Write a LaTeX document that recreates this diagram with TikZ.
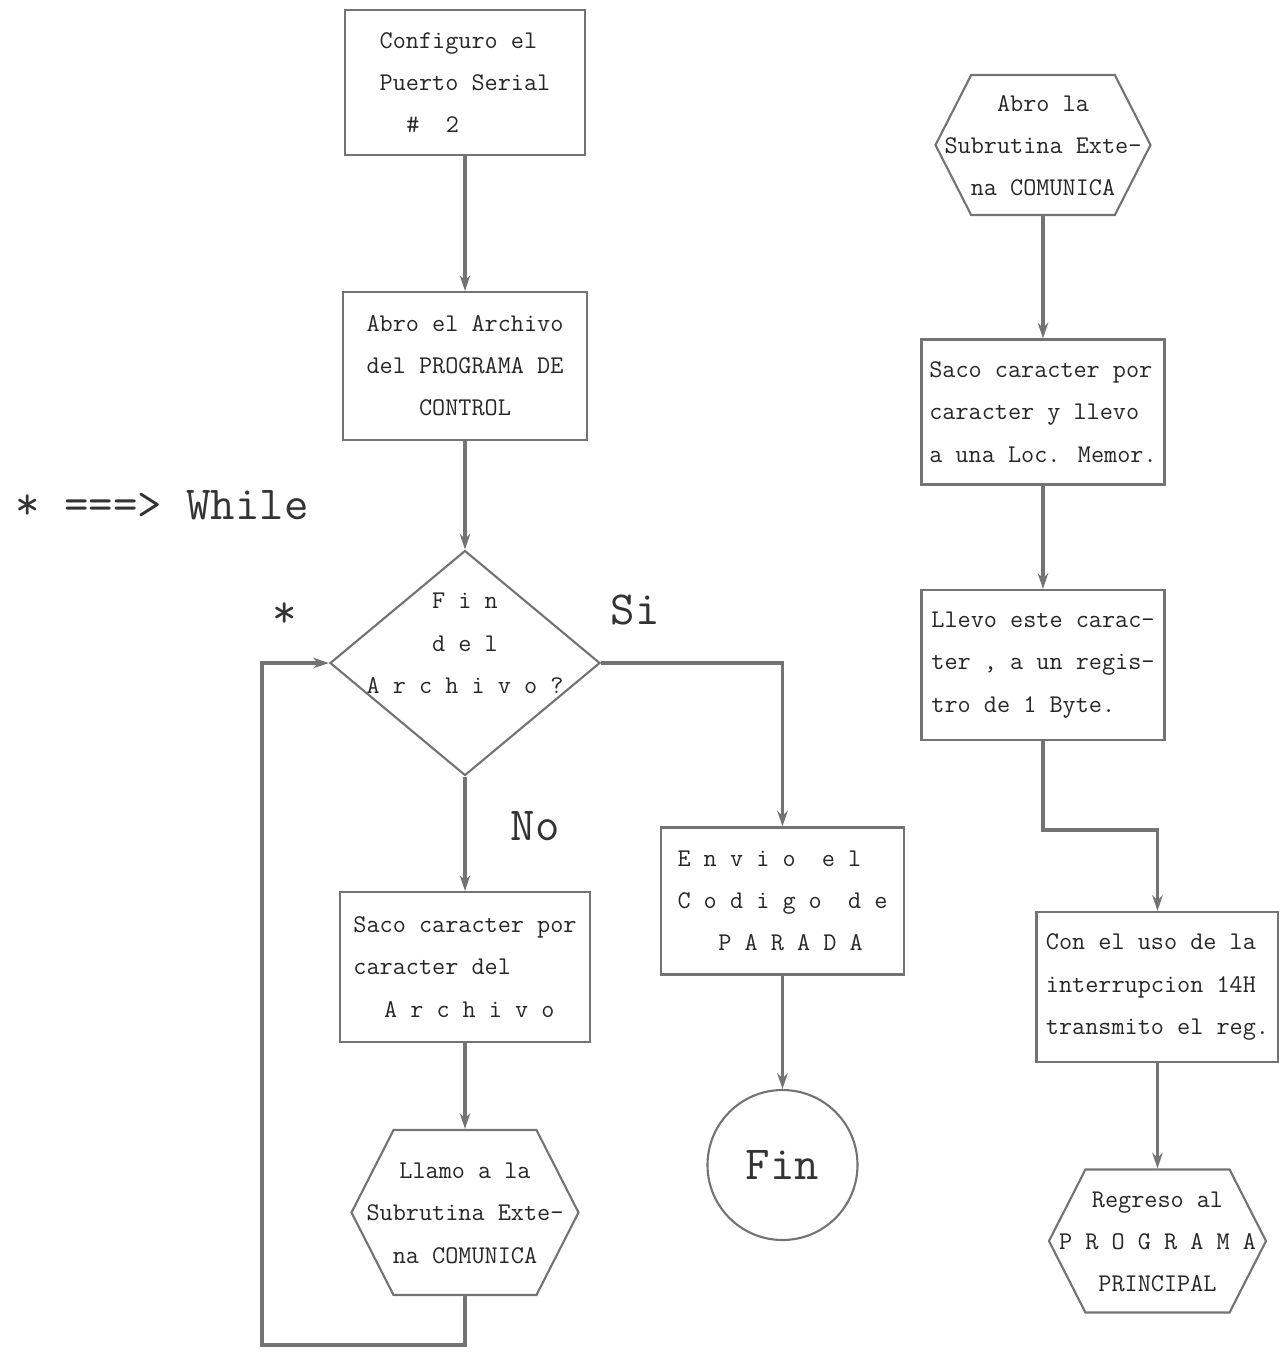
\documentclass[tikz,border=0pt]{standalone}
\usetikzlibrary{arrows.meta, shapes.geometric, shapes.symbols}

% texto centrado sin ancho (para rombo y hexagonos)
\newcommand{\centrado}[1]{\makebox[0pt]{\begin{tabular}{@{}c@{}}#1\end{tabular}}}

\begin{document}
\begin{tikzpicture}[>=Stealth,
    txt/.style={font=\ttfamily\fontsize{14.5}{24}\selectfont, text=black!85},
    caja/.style={txt, rectangle, draw=black!55, line width=1.2pt, inner sep=3pt},
    hexa/.style={txt, signal, signal to=east and west, signal pointer angle=126,
                 draw=black!55, line width=1.2pt, inner sep=1pt},
    rombo/.style={txt, diamond, draw=black!55, line width=1.2pt, inner sep=0pt},
    grande/.style={font=\ttfamily\fontsize{27}{30}\selectfont, text=black!80},
    flecha/.style={draw=black!55, line width=2pt, -{Stealth[length=9pt, width=6pt]}},
    linea/.style={draw=black!55, line width=2pt}]

  \useasboundingbox (0,0) rectangle (25.56,-27.12);

  % === Programa principal ===
  \node[caja, minimum width=4.8cm, minimum height=2.9cm, align=left] (config) at (9.3,-1.65)
    {Configuro el\\Puerto Serial\\\hspace*{1.05em}\#~~2};
  \node[caja, minimum width=4.88cm, minimum height=2.96cm, align=center] (abro) at (9.3,-7.32)
    {Abro el Archivo\\del PROGRAMA DE\\CONTROL};
  \node[rombo, minimum width=5.4cm, minimum height=4.5cm] (fin?) at (9.3,-13.26)
    {\raisebox{0.28cm}[0pt][0pt]{\centrado{F i n\\d e l\\A r c h i v o ?}}};
  \node[caja, minimum width=5.0cm, minimum height=3.0cm, align=left] (saco) at (9.3,-19.34)
    {Saco caracter por\\caracter del\\\hspace*{1.2em}A r c h i v o};
  \node[hexa, minimum width=4.54cm, minimum height=3.3cm] (llamo) at (9.3,-24.25)
    {\centrado{Llamo a la\\Subrutina Exte-\\na COMUNICA}};
  \coordinate (esq) at (5.24,-26.9);

  \node[caja, minimum width=4.86cm, minimum height=2.94cm, align=left] (envio) at (15.65,-18.02)
    {E n v i o~ e l\\C o d i g o~ d e\\\hspace*{1.6em}P A R A D A};
  \node[circle, draw=black!55, line width=1.2pt, minimum size=3cm, grande] (fin) at (15.65,-23.3) {Fin};

  % etiquetas
  \node[grande] (while) at (3.24,-10.1) {* ===> While};
  \node[grande] (ast) at (5.7,-12.3) {*};
  \node[grande] (si) at (12.7,-12.2) {Si};
  \node[grande] (no) at (10.7,-16.52) {No};

  % conectores
  \draw[flecha] (config) -- (abro);
  \draw[flecha] (abro) -- (fin?.north);
  \draw[flecha] (fin?.south) -- (saco);
  \draw[flecha] (saco) -- (llamo.north);
  \draw[flecha] (llamo.south) |- (esq) |- (fin?.west);
  \draw[flecha] (fin?.east) -| (envio.north);
  \draw[flecha] (envio) -- (fin);

  % === Subrutina COMUNICA ===
  \node[hexa, minimum width=4.3cm, minimum height=2.8cm] (abrola) at (20.86,-2.9)
    {\centrado{Abro la\\Subrutina Exte-\\na COMUNICA}};
  \node[caja, minimum width=4.86cm, minimum height=2.9cm, align=left] (sacoc) at (20.86,-8.24)
    {Saco caracter por\\caracter y llevo\\a una Loc. Memor.};
  \node[caja, minimum width=4.86cm, minimum height=3.0cm, align=left] (llevo) at (20.86,-13.3)
    {Llevo este carac-\\ter , a un regis-\\tro de 1 Byte.};
  \coordinate (codo) at (20.86,-16.6);
  \node[caja, minimum width=4.84cm, minimum height=3.0cm, align=left] (conuso) at (23.15,-19.74)
    {Con el uso de la\\interrupcion 14H\\transmito el reg.};
  \node[hexa, minimum width=4.34cm, minimum height=2.86cm] (regreso) at (23.15,-24.82)
    {\centrado{Regreso al\\P R O G R A M A\\PRINCIPAL}};

  \draw[flecha] (abrola.south) -- (sacoc);
  \draw[flecha] (sacoc) -- (llevo);
  \draw[flecha] (llevo.south) -- (codo) -| (conuso.north);
  \draw[flecha] (conuso) -- (regreso.north);

\end{tikzpicture}
\end{document}
